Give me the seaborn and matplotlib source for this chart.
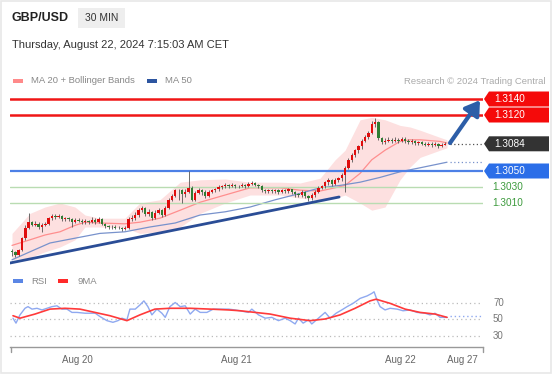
import numpy as np
import matplotlib
matplotlib.use("Agg")
import matplotlib.pyplot as plt
import seaborn as sns
from matplotlib.patches import Polygon, Rectangle

# prices are stored in pips above 1.2900
BASE = 1.2900
PIP = 0.0001

first_open = 50
closes = [49, 45, 51, 66, 79, 86, 83, 84, 80, 83, 84, 91, 94, 92, 94, 90, 91, 90, 86, 89,
          88, 86, 88, 86, 89, 86, 90, 84, 81, 80, 80, 79, 79, 78, 79, 90, 91, 95, 101, 104,
          96, 99, 91, 98, 101, 95, 104, 114, 119, 126, 126, 121, 124, 129, 114, 123, 126, 124, 119, 124,
          126, 127, 130, 131, 133, 131, 133, 131, 131, 133, 131, 134, 135, 133, 131, 126, 125, 126, 125, 126,
          124, 126, 125, 127, 124, 121, 120, 124, 119, 116, 120, 124, 129, 131, 136, 139, 134, 139, 141, 145,
          154, 164, 170, 176, 181, 188, 193, 198, 209, 211, 191, 186, 188, 189, 188, 189, 188, 190, 188, 186,
          188, 185, 186, 184, 183, 184, 183, 184, 181, 183, 184]
highs = [52, 50, 53, 67, 82, 98, 88, 87, 86, 85, 86, 93, 96, 96, 96, 95, 93, 93, 91, 91,
         91, 90, 90, 89, 93, 91, 92, 91, 85, 83, 82, 82, 81, 80, 81, 92, 95, 99, 104, 106,
         105, 102, 100, 101, 104, 102, 106, 116, 121, 128, 128, 127, 127, 150, 131, 125, 129, 128, 126, 126,
         128, 129, 132, 133, 135, 134, 135, 134, 133, 135, 134, 136, 137, 136, 134, 132, 128, 128, 127, 128,
         127, 128, 127, 129, 128, 125, 123, 126, 125, 120, 122, 126, 131, 133, 138, 141, 140, 141, 143, 147,
         156, 166, 172, 178, 183, 190, 195, 200, 212, 216, 213, 193, 191, 192, 191, 192, 191, 193, 192, 190,
         190, 189, 188, 187, 186, 186, 186, 186, 185, 185, 186]
lows = [44, 42, 44, 50, 64, 77, 81, 81, 77, 74, 81, 83, 89, 90, 91, 88, 88, 87, 80, 85,
        86, 84, 84, 84, 85, 84, 85, 82, 79, 78, 78, 77, 77, 75, 76, 78, 88, 89, 93, 99,
        94, 94, 89, 90, 96, 93, 94, 102, 112, 117, 114, 110, 118, 122, 112, 113, 121, 120, 116, 117,
        122, 124, 125, 128, 129, 129, 130, 129, 129, 130, 129, 130, 132, 131, 129, 124, 123, 123, 122, 123,
        121, 122, 122, 123, 121, 118, 117, 118, 116, 113, 114, 118, 122, 127, 129, 133, 131, 132, 136, 138,
        124, 152, 161, 167, 173, 178, 186, 190, 196, 205, 189, 184, 184, 186, 185, 186, 185, 186, 185, 184,
        184, 183, 183, 182, 181, 181, 180, 181, 179, 180, 182]

# MA 20 + Bollinger bands, MA 50
band_x = [0, 5.4, 9.9, 14.4, 18.9, 21.9, 26.4, 33.9, 38.4, 44.4, 50.5, 56.5, 64, 71.5, 80.5,
          86.5, 92.5, 97, 100, 104.5, 108, 112, 116.5, 119.5, 122.5, 128.5, 130.6]
band_upper = [72, 97, 105, 110, 105, 95, 91, 91, 110, 114, 136, 139, 140, 136, 136,
              135, 141, 164, 176, 214, 217, 214, 207, 205, 201, 192, 189]
band_lower = [39, 42, 49, 55, 64, 80, 80, 79, 72, 74, 80, 97, 110, 120, 120,
              116, 114, 116, 120, 110, 101, 105, 139, 155, 167, 176, 179]
ma20 = [57, 64, 70, 74, 82, 86, 85, 84, 86, 91, 101, 111, 120, 129, 129,
        126, 125, 129, 132, 147, 164, 176, 187, 189, 189, 187, 185]
ma50_x = [0, 5.4, 11.4, 18.9, 26.4, 33.9, 41.4, 49, 56.5, 64, 71.5, 79, 86.5, 92.5,
          98.5, 104.5, 110.5, 116.5, 122.5, 130.6]
ma50 = [39, 49, 60, 66, 72, 74, 80, 85, 95, 99, 105, 114, 122, 129,
        132, 136, 142, 149, 154, 161]

levels_red = [1.3140, 1.3120]
level_blue = 1.3050
levels_green = [1.3030, 1.3010]
last_price = 1.3084

trend_x = [-0.6, 98.2]
trend_y = [1.2935, 1.30175]
arrow_from = (131.5, 1.3085)
arrow_to = (140.5, 1.31385)

rsi_x = [0.3, 1.2, 2.4, 3.9, 4.8, 6, 7.5, 9, 10.5, 12, 13.5, 15, 16.5, 18, 19.5, 22, 25, 26.4,
         28.5, 30.3, 31.8, 33, 34.5, 35.4, 37, 38.4, 39.6, 40.8, 42, 43.5, 45, 46, 47.4, 49, 50.5,
         52, 53.5, 55, 56.5, 58.5, 60.4, 62.5, 65, 67, 71, 72, 74, 76, 78, 80, 82, 83.5, 85, 86,
         87.4, 89, 90, 92, 94, 95.5, 97.3, 99, 100.6, 102.4, 104.5, 106.6, 108, 108.7, 109.6,
         110.5, 112, 113.5, 115.6, 117.4, 119.5, 121.6, 124, 125.5, 127, 128.5, 130.6]
rsi = [51, 45, 55, 63, 65, 62, 63, 61, 63, 65, 66, 62, 62, 58, 58, 57, 57, 53,
       48, 46, 48, 51, 49, 62, 62, 67, 72, 65, 55, 62, 57, 52, 65, 70, 65,
       66, 56, 62, 58, 58, 62, 62, 62, 61, 58, 62, 55, 51, 52, 48, 51, 48, 44, 51,
       45, 49, 44, 51, 58, 51, 57, 61, 65, 69, 75, 78, 81, 83, 73,
       65, 61, 63, 62, 60, 61, 58, 57, 55, 57, 52, 52]
ma9_x = [0.3, 2.4, 6.9, 11.4, 15.9, 20.4, 24.9, 29.4, 34.5, 38.4, 42.9, 47.4, 53.5, 59.5, 65,
         68.5, 73, 77.5, 83.5, 89.5, 94, 98.5, 103, 107.5, 109.3, 113.5, 118, 122.5, 127, 130.6]
ma9 = [54, 51, 56, 62, 63, 62, 58, 54, 48, 55, 62, 63, 63, 62, 61,
       60, 58, 56, 51, 48, 50, 55, 63, 72, 74, 69, 62, 58, 56, 52]
rsi_last = 54
rsi_levels = [70, 50, 30]

tick_pos = [19.5, 67.5, 116.5, 135.3]
tick_labels = ["Aug 20", "Aug 21", "Aug 22", "Aug 27"]

sns.set_theme(style="white")
plt.rcParams['font.family'] = ['Liberation Sans', 'DejaVu Sans']

W, H = 553, 375
fig = plt.figure(figsize=(W / 100, H / 100), dpi=100)
fig.patch.set_facecolor('white')


def px_box(x0, y0, x1, y1):
    return [x0 / W, 1 - y1 / H, (x1 - x0) / W, (y1 - y0) / H]


XLIM = (-0.6, 141.4)

# overlay in pixel coordinates for header text, labels
ov = fig.add_axes([0, 0, 1, 1], zorder=5)
ov.set_xlim(0, W)
ov.set_ylim(H, 0)
ov.axis('off')
ov.patch.set_alpha(0)

ax = fig.add_axes(px_box(10, 90, 483, 268))
ax.set_xlim(*XLIM)
ax.set_ylim(1.292875, 1.315125)
ax.axis('off')

# bollinger band + moving averages
bx = np.array(band_x)
ax.fill_between(bx, BASE + np.array(band_lower) * PIP, BASE + np.array(band_upper) * PIP,
                color='#fde0e0', lw=0, zorder=1)
sns.lineplot(x=bx, y=BASE + np.array(ma20) * PIP, ax=ax, color='#ff8e8e', lw=0.9, zorder=2)
sns.lineplot(x=np.array(ma50_x), y=BASE + np.array(ma50) * PIP, ax=ax, color='#7892cc', lw=0.9, zorder=2)
ax.plot([131.5, 141], [BASE + ma50[-1] * PIP] * 2, ls=(0, (1, 2)), color='#7892cc', lw=0.9)

# horizontal levels
for lv in levels_red:
    ax.axhline(lv, color='#f01616', lw=1.8, zorder=3)
ax.axhline(level_blue, color='#4d80e6', lw=1.6, zorder=3)
for lv in levels_green:
    ax.axhline(lv, color='#b9dcb2', lw=1.0, zorder=3)
ax.plot([131.5, 141], [last_price, last_price], ls=(0, (1, 2)), color='#555555', lw=0.9)

# candles
c = np.array(closes) * PIP + BASE
o = np.array([first_open] + closes[:-1]) * PIP + BASE
hi = np.array(highs) * PIP + BASE
lo = np.array(lows) * PIP + BASE
idx = np.arange(len(c))
up = c >= o
ax.vlines(idx, lo, hi, color='#555555', lw=0.6, zorder=4)
body_h = np.maximum(np.abs(c - o), 0.3 * PIP)
ax.bar(idx[up], body_h[up], bottom=np.minimum(o, c)[up], width=0.72, color='#e00d0d', lw=0, zorder=5)
ax.bar(idx[~up], body_h[~up], bottom=np.minimum(o, c)[~up], width=0.72, color='#2e7d32', lw=0, zorder=5)

# trend line and arrow
ax.plot(trend_x, trend_y, color='#2a4d96', lw=2.0, zorder=6, solid_capstyle='round')
ax.annotate('', xy=arrow_to, xytext=arrow_from, annotation_clip=False,
            arrowprops=dict(arrowstyle='-|>,head_length=0.7,head_width=0.45', color='#2d5ea8',
                            lw=3, shrinkA=0, shrinkB=0), zorder=7)


def price_px(p):
    d = ax.transData.transform((0, p))
    return ov.transData.inverted().transform(d)[1]


def tag(price, text, color):
    yc = price_px(price)
    pts = [(484, yc), (489, yc - 7.5), (549, yc - 7.5), (549, yc + 7.5), (489, yc + 7.5)]
    ov.add_patch(Polygon(pts, closed=True, color=color, lw=0))
    ov.text(494, yc, text, color='white', fontsize=7.2, va='center', ha='left')


for lv in levels_red:
    tag(lv, f"{lv:.4f}", '#f50a0a')
tag(last_price, f"{last_price:.4f}", '#333333')
tag(level_blue, f"{level_blue:.4f}", '#2b6ee8')
for lv in levels_green:
    ov.text(492, price_px(lv), f"{lv:.4f}", color='#3c9a3c', fontsize=7.2, va='center', ha='left')

# RSI panel
rax = fig.add_axes(px_box(10, 288, 483, 347))
rax.set_xlim(*XLIM)
rax.set_ylim(16.06, 87.6)
for s in ['top', 'right', 'left']:
    rax.spines[s].set_visible(False)
rax.spines['bottom'].set_color('#999999')
rax.spines['bottom'].set_linewidth(1.0)
rax.set_yticks([])
rax.set_xticks(tick_pos)
rax.set_xticklabels(tick_labels, color='#666666', fontsize=7)
rax.tick_params(axis='x', length=0, pad=6)
for lv in rsi_levels:
    rax.axhline(lv, color='#bbbbbb', lw=0.9, ls=(0, (1, 2.5)))
sns.lineplot(x=np.array(rsi_x), y=np.array(rsi), ax=rax, color='#8fa9f0', lw=1.0)
sns.lineplot(x=np.array(ma9_x), y=np.array(ma9), ax=rax, color='#ff3a3a', lw=1.2)
rax.plot([131.5, 141], [rsi_last, rsi_last], ls=(0, (1, 2)), color='#8fa9f0', lw=1.0)
for lv in rsi_levels:
    yy = ov.transData.inverted().transform(rax.transData.transform((0, lv)))[1]
    ov.text(493, yy, str(lv), color='#777777', fontsize=7, va='center', ha='left')

# axis end ticks
ov.plot([11, 11], [347, 352], color='#999999', lw=1.0)
ov.plot([483, 483], [347, 352], color='#999999', lw=1.0)

# header
ov.text(11, 18, "GBP/USD", fontsize=9, fontweight='bold', color='#222222', va='center')
ov.add_patch(Rectangle((78, 8), 47, 20, color='#eeeeee', lw=0))
ov.text(101.5, 18, "30 MIN", fontsize=7.4, color='#333333', va='center', ha='center')
ov.text(12, 45, "Thursday, August 22, 2024 7:15:03 AM CET", fontsize=8, color='#333333', va='center')

# legends
ov.add_patch(Rectangle((13, 78.5), 10, 4, color='#ff8a8a', lw=0))
ov.text(31, 80.5, "MA 20 + Bollinger Bands", fontsize=6.8, color='#888888', va='center')
ov.add_patch(Rectangle((147, 78.5), 10, 4, color='#2d55a0', lw=0))
ov.text(165, 80.5, "MA 50", fontsize=6.8, color='#888888', va='center')
ov.text(545, 81, "Research \u00a9 2024 Trading Central", fontsize=6.8, color='#aaaaaa',
        va='center', ha='right')
ov.add_patch(Rectangle((13, 279), 10, 4, color='#5b86e5', lw=0))
ov.text(31, 281, "RSI", fontsize=6.8, color='#888888', va='center')
ov.add_patch(Rectangle((58, 279), 10, 4, color='#ff2a2a', lw=0))
ov.text(77, 281, "9MA", fontsize=6.8, color='#888888', va='center')

# frame
ov.add_patch(Rectangle((1, 1), W - 3, H - 3, fill=False, edgecolor='#e8e8e8', lw=1.2))

fig.savefig('out.png', dpi=100)
